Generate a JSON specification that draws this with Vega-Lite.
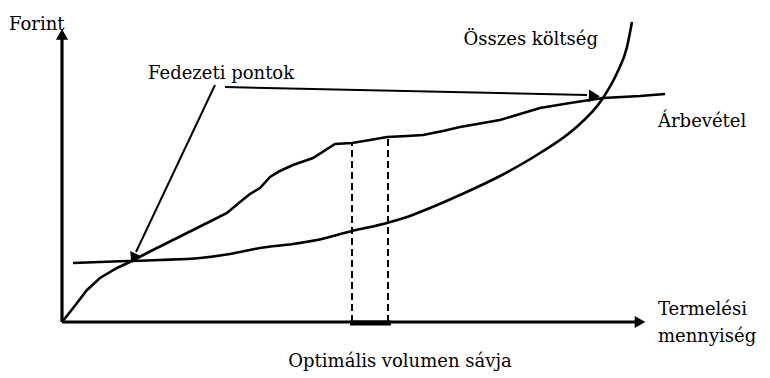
{
  "$schema": "https://vega.github.io/schema/vega-lite/v6.json",
  "width": 770,
  "height": 378,
  "padding": 0,
  "autosize": {"type": "fit", "contains": "padding"},
  "config": {"view": {"stroke": null}},
  "datasets": {
    "revenue": [
      {"q": 0, "v": 0}, {"q": 8, "v": 10}, {"q": 15, "v": 19}, {"q": 25, "v": 32}, {"q": 38, "v": 44},
      {"q": 55, "v": 54}, {"q": 70, "v": 61}, {"q": 85, "v": 69}, {"q": 105, "v": 79}, {"q": 125, "v": 89},
      {"q": 145, "v": 99}, {"q": 165, "v": 109}, {"q": 178, "v": 120}, {"q": 188, "v": 128}, {"q": 198, "v": 134},
      {"q": 208, "v": 145}, {"q": 218, "v": 151}, {"q": 231, "v": 157}, {"q": 251, "v": 164}, {"q": 273, "v": 178},
      {"q": 290, "v": 179}, {"q": 308, "v": 182}, {"q": 325, "v": 185}, {"q": 345, "v": 186}, {"q": 361, "v": 187},
      {"q": 371, "v": 189}, {"q": 381, "v": 191}, {"q": 398, "v": 195}, {"q": 438, "v": 202}, {"q": 478, "v": 214},
      {"q": 508, "v": 219}, {"q": 541, "v": 224}, {"q": 578, "v": 226}, {"q": 603, "v": 228}
    ],
    "cost": [
      {"q": 11, "v": 59}, {"q": 38, "v": 60}, {"q": 68, "v": 61}, {"q": 98, "v": 62}, {"q": 138, "v": 64},
      {"q": 168, "v": 68}, {"q": 198, "v": 74}, {"q": 231, "v": 78}, {"q": 255, "v": 82}, {"q": 290, "v": 91},
      {"q": 325, "v": 99}, {"q": 345, "v": 105}, {"q": 368, "v": 114}, {"q": 398, "v": 127}, {"q": 438, "v": 146},
      {"q": 478, "v": 169}, {"q": 511, "v": 192}, {"q": 541, "v": 224}, {"q": 555, "v": 249}, {"q": 565, "v": 275},
      {"q": 570, "v": 300}
    ],
    "axes": [
      {"q": 0, "v": 0, "q2": 0, "v2": 290},
      {"q": 0, "v": 0, "q2": 575, "v2": 0}
    ],
    "pointers": [
      {"q": 153, "v": 237, "q2": 74, "v2": 70},
      {"q": 163, "v": 235, "q2": 525, "v2": 227}
    ],
    "band": [
      {"q": 290, "v": 0, "v2": 179},
      {"q": 326, "v": 0, "v2": 185}
    ],
    "segment": [{"q": 288, "q2": 329, "v": -1}],
    "labels": [
      {"q": -53, "v": 292, "label": "Forint", "anchor": "left"},
      {"q": 86, "v": 243, "label": "Fedezeti pontok", "anchor": "left"},
      {"q": 536, "v": 277, "label": "Összes költség", "anchor": "right"},
      {"q": 596, "v": 195, "label": "Árbevétel", "anchor": "left"},
      {"q": 596, "v": 7, "label": "Termelési", "anchor": "left"},
      {"q": 596, "v": -20, "label": "mennyiség", "anchor": "left"},
      {"q": 338, "v": -45, "label": "Optimális volumen sávja", "anchor": "center"}
    ]
  },
  "encoding": {
    "x": {"field": "q", "type": "quantitative", "axis": null, "scale": {"domain": [-62, 708], "nice": false, "zero": false}},
    "y": {"field": "v", "type": "quantitative", "axis": null, "scale": {"domain": [-56, 322], "nice": false, "zero": false}}
  },
  "layer": [
    {"data": {"name": "revenue"}, "mark": {"type": "line", "color": "black", "strokeWidth": 2.6}},
    {"data": {"name": "cost"}, "mark": {"type": "line", "color": "black", "strokeWidth": 2.6, "interpolate": "monotone"}},
    {"data": {"name": "axes"}, "mark": {"type": "rule", "color": "black", "strokeWidth": 3.2},
      "encoding": {"x2": {"field": "q2"}, "y2": {"field": "v2"}}},
    {"data": {"values": [{"q": 0, "v": 287.5}]}, "mark": {"type": "point", "shape": "triangle-up", "filled": true, "opacity": 1, "color": "black", "size": 150}},
    {"data": {"values": [{"q": 578, "v": 0}]}, "mark": {"type": "point", "shape": "triangle-right", "filled": true, "opacity": 1, "color": "black", "size": 150}},
    {"data": {"name": "pointers"}, "mark": {"type": "rule", "color": "black", "strokeWidth": 2},
      "encoding": {"x2": {"field": "q2"}, "y2": {"field": "v2"}}},
    {"data": {"values": [{"q": 72, "v": 65.5}]}, "mark": {"type": "point", "shape": "triangle", "angle": 205, "filled": true, "opacity": 1, "color": "black", "size": 130}},
    {"data": {"values": [{"q": 530.5, "v": 226}]}, "mark": {"type": "point", "shape": "triangle", "angle": 91.4, "filled": true, "opacity": 1, "color": "black", "size": 160}},
    {"data": {"name": "band"}, "mark": {"type": "rule", "color": "black", "strokeWidth": 2, "strokeDash": [7, 4]},
      "encoding": {"y2": {"field": "v2"}}},
    {"data": {"name": "segment"}, "mark": {"type": "rule", "color": "black", "strokeWidth": 5},
      "encoding": {"x2": {"field": "q2"}}},
    {"data": {"name": "labels"}, "transform": [{"filter": "datum.anchor == 'left'"}], "mark": {"type": "text", "align": "left", "baseline": "alphabetic", "font": "DejaVu Serif", "fontSize": 18, "color": "black"},
      "encoding": {"text": {"field": "label"}}},
    {"data": {"name": "labels"}, "transform": [{"filter": "datum.anchor == 'right'"}], "mark": {"type": "text", "align": "right", "baseline": "alphabetic", "font": "DejaVu Serif", "fontSize": 18, "color": "black"},
      "encoding": {"text": {"field": "label"}}},
    {"data": {"name": "labels"}, "transform": [{"filter": "datum.anchor == 'center'"}], "mark": {"type": "text", "align": "center", "baseline": "alphabetic", "font": "DejaVu Serif", "fontSize": 18, "color": "black"},
      "encoding": {"text": {"field": "label"}}}
  ]
}
